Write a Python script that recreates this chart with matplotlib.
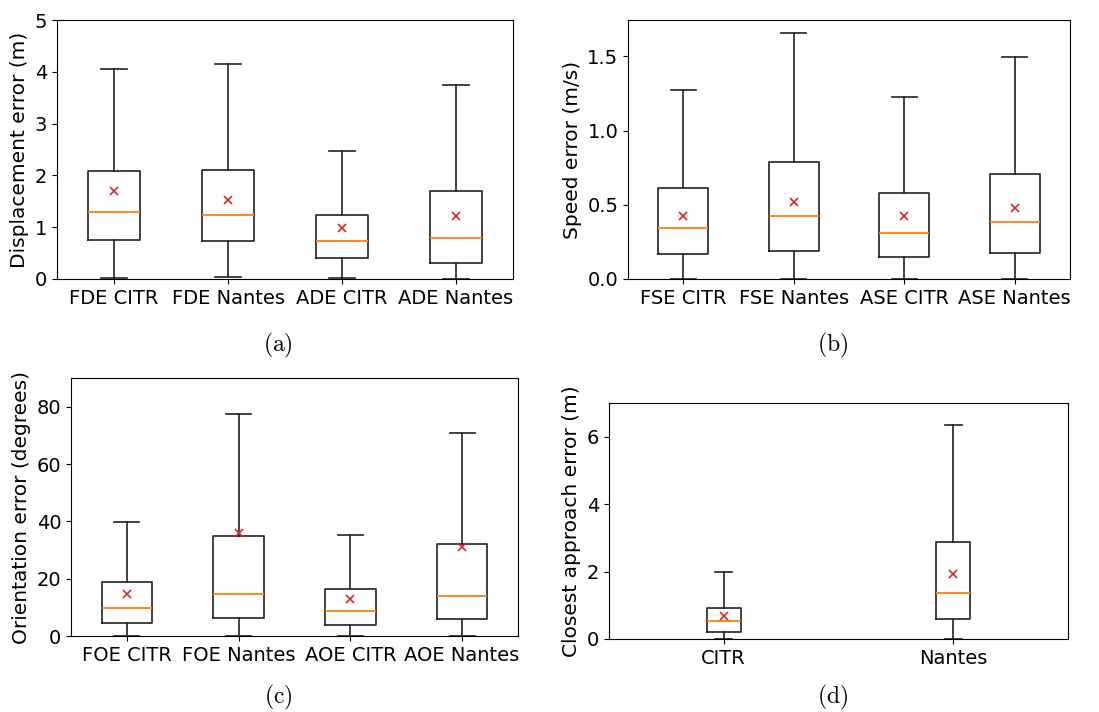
import matplotlib
matplotlib.use("Agg")
import matplotlib.pyplot as plt

plt.rcParams['mathtext.fontset'] = 'cm'

# (a) displacement error
disp_labels = ["FDE CITR", "FDE Nantes", "ADE CITR", "ADE Nantes"]
disp_low = [0.02, 0.04, 0.02, 0.0]
disp_q1 = [0.76, 0.73, 0.40, 0.31]
disp_med = [1.29, 1.23, 0.73, 0.79]
disp_q3 = [2.08, 2.10, 1.23, 1.69]
disp_high = [4.06, 4.15, 2.47, 3.74]
disp_mean = [1.69, 1.53, 0.98, 1.21]

# (b) speed error
speed_labels = ["FSE CITR", "FSE Nantes", "ASE CITR", "ASE Nantes"]
speed_low = [0.0, 0.0, 0.0, 0.0]
speed_q1 = [0.168, 0.189, 0.150, 0.175]
speed_med = [0.341, 0.427, 0.310, 0.384]
speed_q3 = [0.611, 0.786, 0.582, 0.707]
speed_high = [1.276, 1.660, 1.224, 1.498]
speed_mean = [0.422, 0.521, 0.427, 0.476]

# (c) orientation error
orient_labels = ["FOE CITR", "FOE Nantes", "AOE CITR", "AOE Nantes"]
orient_low = [0.0, 0.0, 0.0, 0.0]
orient_q1 = [4.4, 6.4, 3.7, 6.0]
orient_med = [9.6, 14.7, 8.7, 14.1]
orient_q3 = [18.7, 34.9, 16.3, 32.0]
orient_high = [39.8, 77.6, 35.4, 70.7]
orient_mean = [14.7, 36.1, 12.9, 31.0]

# (d) closest approach error
ca_labels = ["CITR", "Nantes"]
ca_low = [0.0, 0.0]
ca_q1 = [0.22, 0.60]
ca_med = [0.52, 1.36]
ca_q3 = [0.92, 2.89]
ca_high = [2.0, 6.34]
ca_mean = [0.69, 1.93]

W, H = 1099, 712


def make_stats(labels, low, q1, med, q3, high, mean):
    stats = []
    for i in range(len(labels)):
        stats.append({"label": labels[i], "whislo": low[i], "q1": q1[i],
                      "med": med[i], "q3": q3[i], "whishi": high[i],
                      "mean": mean[i], "fliers": []})
    return stats


def add_panel(fig, box, stats, ylabel, ylim, caption, cap_xy):
    l, r, t, b = box
    ax = fig.add_axes([l / W, 1 - b / H, (r - l) / W, (b - t) / H])
    lw = 1.2
    ax.bxp(stats, showmeans=True, showfliers=False,
           boxprops=dict(linewidth=lw, color="#222222"),
           whiskerprops=dict(linewidth=lw, color="#222222"),
           capprops=dict(linewidth=lw, color="#222222"),
           medianprops=dict(color="C1", linewidth=1.3),
           meanprops=dict(marker="x", markeredgecolor="C3", markersize=6,
                          markeredgewidth=1.2))
    ax.set_ylim(ylim)
    ax.set_ylabel(ylabel, fontsize=14.5)
    ax.tick_params(axis="both", labelsize=14)
    fig.text(cap_xy[0] / W, 1 - cap_xy[1] / H, r"$\mathrm{" + caption + "}$",
             ha="center", va="center", fontsize=17)
    return ax


fig = plt.figure(figsize=(W / 100, H / 100), dpi=100)

add_panel(fig, (57, 513, 20, 279),
          make_stats(disp_labels, disp_low, disp_q1, disp_med, disp_q3, disp_high, disp_mean),
          "Displacement error (m)", (0, 5), "(a)", (278, 345))
add_panel(fig, (628, 1070, 20, 279),
          make_stats(speed_labels, speed_low, speed_q1, speed_med, speed_q3, speed_high, speed_mean),
          "Speed error (m/s)", (0, 1.745), "(b)", (833, 345))
add_panel(fig, (71, 518, 378, 636),
          make_stats(orient_labels, orient_low, orient_q1, orient_med, orient_q3, orient_high, orient_mean),
          "Orientation error (degrees)", (0, 90), "(c)", (278, 697))
add_panel(fig, (609, 1068, 403, 639),
          make_stats(ca_labels, ca_low, ca_q1, ca_med, ca_q3, ca_high, ca_mean),
          "Closest approach error (m)", (0, 7), "(d)", (833, 697))

fig.savefig("out.png", dpi=100)
